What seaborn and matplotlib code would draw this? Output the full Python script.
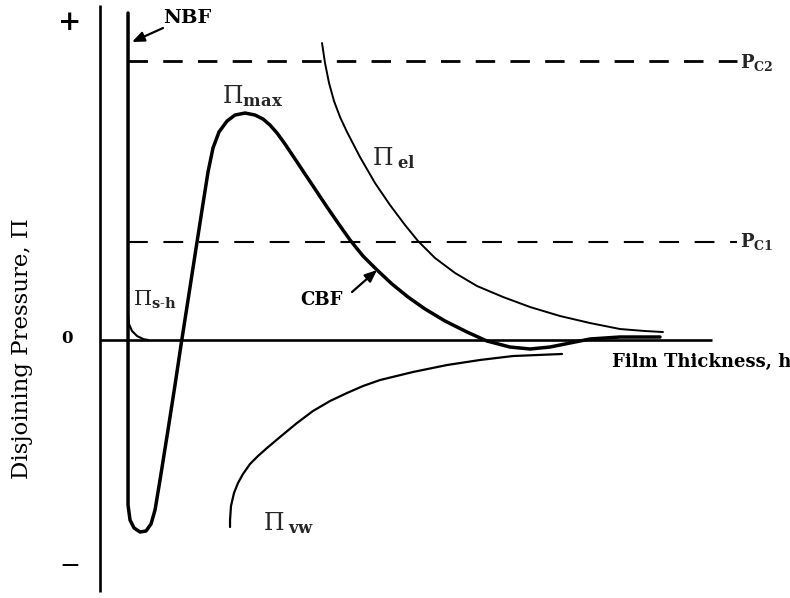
import matplotlib
matplotlib.use("Agg")
import matplotlib.pyplot as plt
import seaborn as sns
import pandas as pd

# Film thickness h and disjoining pressure Pi (arbitrary units)
# Total isotherm: newton black film branch, attractive well, barrier, common black film
total_h = [0.467, 0.467, 0.50, 0.567, 0.667, 0.767, 0.85, 0.917, 1.00, 1.133, 1.25,
           1.35, 1.467, 1.583, 1.70, 1.80, 1.883, 1.983, 2.117, 2.25, 2.417, 2.583,
           2.717, 2.833, 2.95, 3.083, 3.217, 3.383, 3.583, 3.783, 3.967, 4.167, 4.383,
           4.617, 4.867, 5.133, 5.417, 5.75, 6.117, 6.45, 6.833, 7.167, 7.50, 7.833,
           8.167, 8.667, 9.333]
total_pi = [5.45, -2.75, -3.00, -3.133, -3.20, -3.183, -3.067, -2.833, -2.333, -1.50, -0.75,
            -0.083, 0.667, 1.417, 2.167, 2.80, 3.20, 3.467, 3.65, 3.75, 3.783, 3.75,
            3.683, 3.583, 3.45, 3.267, 3.067, 2.817, 2.517, 2.217, 1.95, 1.667, 1.40,
            1.167, 0.933, 0.717, 0.517, 0.317, 0.133, -0.017, -0.117, -0.15, -0.117, -0.05,
            0.017, 0.05, 0.05]

# Electrostatic double-layer repulsion
el_h = [3.70, 3.75, 3.817, 3.90, 4.00, 4.117, 4.333, 4.583, 4.833, 5.083, 5.30,
        5.583, 5.917, 6.283, 6.717, 7.167, 7.667, 8.167, 8.667, 9.083, 9.383]
el_pi = [4.95, 4.617, 4.283, 3.983, 3.717, 3.467, 3.05, 2.617, 2.25, 1.917, 1.65,
         1.367, 1.117, 0.90, 0.717, 0.55, 0.40, 0.283, 0.183, 0.15, 0.133]

# van der Waals attraction
vw_h = [2.167, 2.167, 2.183, 2.233, 2.30, 2.383, 2.50, 2.633, 2.783, 3.00, 3.283,
        3.55, 3.833, 4.117, 4.383, 4.667, 5.217, 5.783, 6.333, 6.883, 7.70]
vw_pi = [-3.117, -3.00, -2.767, -2.55, -2.383, -2.233, -2.067, -1.933, -1.80, -1.617,
         -1.383, -1.183, -1.017, -0.883, -0.767, -0.667, -0.533, -0.417, -0.333,
         -0.267, -0.233]

# Short-range steric/hydration repulsion
sh_h = [0.467, 0.483, 0.533, 0.617, 0.717, 0.80]
sh_pi = [0.417, 0.267, 0.15, 0.067, 0.017, 0.0]

# Critical capillary pressures
pc_labels = ["C2", "C1"]
pc_values = [4.65, 1.633]
pc_h_start = 0.467
pc_h_end = 10.617

# Extent of the drawn coordinate axes
axis_h_max = 10.2
axis_pi_min, axis_pi_max = -4.2, 5.583

sns.set_theme(style="white")
plt.rcParams["font.family"] = ["DejaVu Serif", "DejaVu Sans"]
plt.rcParams["mathtext.fontset"] = "dejavuserif"

fig = plt.figure(figsize=(7.9, 5.98), dpi=100)
ax = fig.add_axes([0, 0, 1, 1])
ax.set_xlim(-1.667, 11.5)
ax.set_ylim(-4.3, 5.667)
ax.set_axis_off()

# coordinate axes
ax.plot([0, 0], [axis_pi_min, axis_pi_max], color="black", lw=1.9, solid_capstyle="butt")
ax.plot([0, axis_h_max], [0, 0], color="black", lw=1.9, solid_capstyle="butt")

# critical pressure levels
ax.hlines(pc_values[0], pc_h_start, pc_h_end, colors="black", lw=2.0,
          linestyles=(0, (7.0, 5.5)))
ax.hlines(pc_values[1], pc_h_start, pc_h_end, colors="black", lw=1.5,
          linestyles=(0, (9.5, 7.5)))

curves = pd.DataFrame({
    "h": total_h + el_h + vw_h + sh_h,
    "pi": total_pi + el_pi + vw_pi + sh_pi,
    "curve": (["total"] * len(total_h) + ["el"] * len(el_h)
              + ["vw"] * len(vw_h) + ["sh"] * len(sh_h)),
})
widths = {"total": 2.5, "el": 1.4, "vw": 1.6, "sh": 1.5}
for name, grp in curves.groupby("curve", sort=False):
    sns.lineplot(data=grp, x="h", y="pi", sort=False, estimator=None, ax=ax,
                 color="black", lw=widths[name], legend=False)
for ln in ax.get_lines():
    ln.set_solid_joinstyle("round")

bold = dict(fontweight="bold", color="black")

# axis annotations
ax.text(-0.5, 5.3, "+", fontsize=20, ha="center", va="center", **bold)
ax.text(-0.55, 0.033, "0", fontsize=12, ha="center", va="center", **bold)
ax.text(-0.5, -3.78, "\u2212", fontsize=18, ha="center", va="center", color="black")
ax.text(-1.3, -0.15, "Disjoining Pressure, \u03a0", fontsize=16.5, rotation=90,
        ha="center", va="center", color="black")
ax.text(8.533, -0.367, "Film Thickness, h", fontsize=13, ha="left", va="center", **bold)

# curve labels
ax.text(1.05, 5.367, "NBF", fontsize=14, ha="left", va="center", **bold)
ax.annotate("", xy=(0.533, 4.967), xytext=(1.05, 5.2),
            arrowprops=dict(arrowstyle="-|>,head_length=0.6,head_width=0.25",
                            color="black", lw=1.6, shrinkA=0, shrinkB=0))
ax.text(3.333, 0.667, "CBF", fontsize=13, ha="left", va="center", **bold)
ax.annotate("", xy=(4.617, 1.167), xytext=(4.2, 0.8),
            arrowprops=dict(arrowstyle="-|>,head_length=0.6,head_width=0.25",
                            color="black", lw=1.6, shrinkA=0, shrinkB=0))

ax.text(2.033, 3.95, r"$\Pi_{\mathbf{max}}$", fontsize=17, ha="left", va="baseline")
ax.text(4.533, 2.917, r"$\Pi_{\;\mathbf{el}}$", fontsize=17, ha="left", va="baseline")
ax.text(0.55, 0.567, r"$\Pi_{\mathbf{s\text{-}h}}$", fontsize=15, ha="left", va="baseline")
ax.text(2.717, -3.167, r"$\Pi_{\;\mathbf{vw}}$", fontsize=17, ha="left", va="baseline")

for lab, val, base in zip(pc_labels, pc_values, [4.533, 1.55]):
    ax.text(10.667, base, r"$\mathbf{P}_{\mathbf{%s}}$" % lab, fontsize=13,
            ha="left", va="baseline")

fig.savefig("out.png", dpi=100)
